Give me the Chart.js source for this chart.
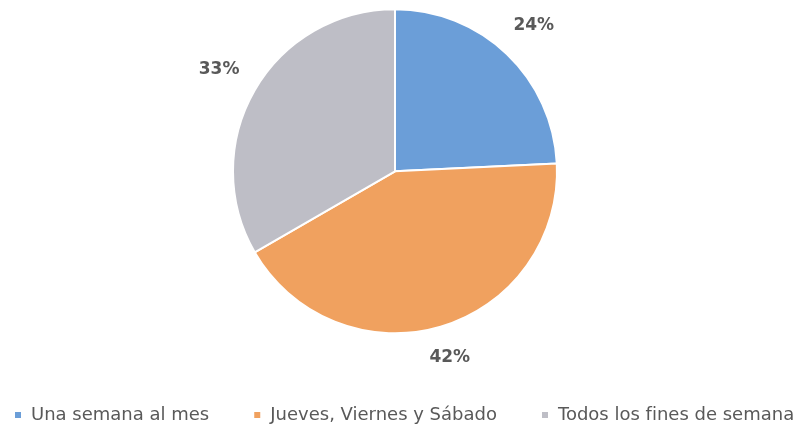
<!DOCTYPE html>
<html lang="es">
<head>
<meta charset="UTF-8">
<title>Frecuencia</title>
<script src="https://cdn.jsdelivr.net/npm/chart.js"></script>
<style>
  html, body { margin: 0; padding: 0; background: #fff; }
  .wrap { width: 809px; height: 437px; }
</style>
</head>
<body>
<div class="wrap"><canvas id="pie"></canvas></div>
<script>
const categories = ['Una semana al mes', 'Jueves, Viernes y Sábado', 'Todos los fines de semana'];
const percents = [24, 42, 33];
const sliceColors = ['#6b9ed8', '#f0a15f', '#bebec6'];

// percentage labels outside the slices, like the spreadsheet export
const outsideLabels = {
  id: 'outsideLabels',
  afterDatasetsDraw(chart) {
    const ctx = chart.ctx;
    const meta = chart.getDatasetMeta(0);
    ctx.save();
    ctx.font = 'bold 17px "DejaVu Sans"';
    ctx.fillStyle = '#595959';
    ctx.textAlign = 'center';
    ctx.textBaseline = 'middle';
    meta.data.forEach((arc, i) => {
      const p = arc.getProps(['x', 'y', 'startAngle', 'endAngle', 'outerRadius'], true);
      const mid = (p.startAngle + p.endAngle) / 2;
      const txt = percents[i] + '%';
      const w = ctx.measureText(txt).width;
      const cx = Math.cos(mid), cy = Math.sin(mid);
      const ext = Math.abs(cx) * w / 2 + Math.abs(cy) * 7;
      const r = p.outerRadius + 20 + ext;
      ctx.fillText(txt, p.x + cx * r, p.y + cy * r);
    });
    ctx.restore();
  }
};

// let the legend keep wide gaps on one row, and keep the pie a bit left of centre
const legendRoom = {
  id: 'legendRoom',
  beforeLayout(chart) {
    const lg = chart.legend;
    if (!lg || lg._roomPatched) return;
    const fit = lg.fit;
    lg.fit = function () {
      const mw = this.maxWidth;
      this.maxWidth = mw + 150;
      fit.call(this);
      this.maxWidth = mw;
      this.width = Math.min(this.width, mw);
    };
    lg._roomPatched = true;
  },
  afterLayout(chart) {
    chart.chartArea.right -= 19;
    chart.chartArea.width -= 19;
    const lg = chart.legend;
    lg.left = 14 - lg.options.labels.padding;
    lg.right = chart.width + 150;
  }
};

new Chart(document.getElementById('pie'), {
  type: 'pie',
  data: {
    labels: categories,
    datasets: [{
      data: percents,
      backgroundColor: sliceColors,
      borderColor: '#ffffff',
      borderWidth: 2,
      radius: 162
    }]
  },
  options: {
    responsive: true,
    maintainAspectRatio: false,
    animation: false,
    layout: { padding: { top: 0, left: 0, right: 0, bottom: 3 } },
    plugins: {
      tooltip: { enabled: false },
      legend: {
        position: 'bottom',
        align: 'start',
        title: { display: true, text: '', padding: { top: 5, bottom: 0 } },
        labels: {
          boxWidth: 8,
          boxHeight: 8,
          padding: 44,
          color: '#595959',
          font: { family: '"DejaVu Sans"', size: 18 }
        }
      }
    }
  },
  plugins: [outsideLabels, legendRoom]
});
</script>
</body>
</html>
